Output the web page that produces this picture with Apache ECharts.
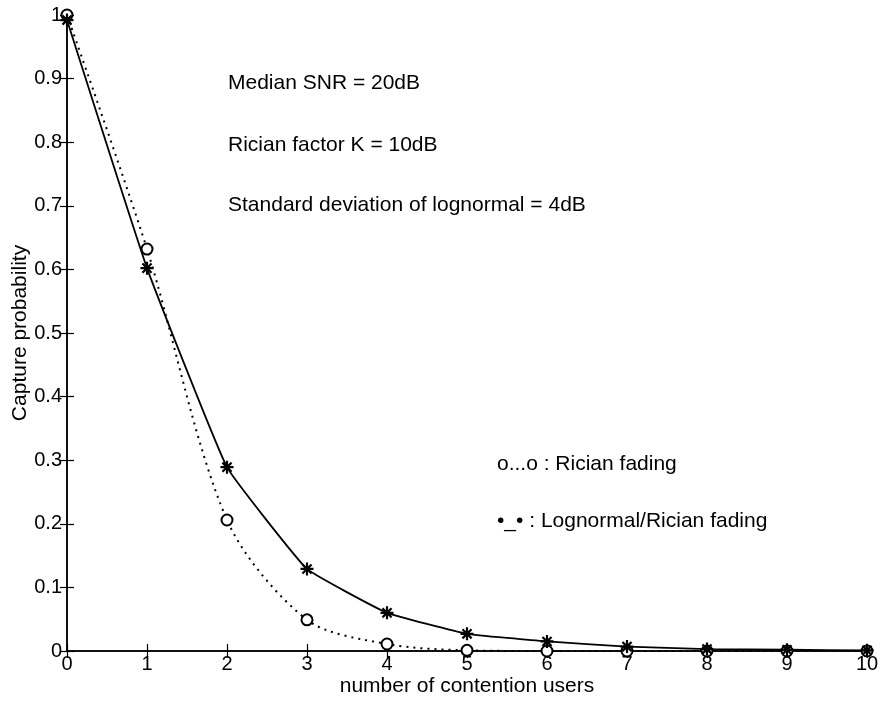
<!DOCTYPE html>
<html>
<head>
<meta charset="utf-8">
<script src="https://cdn.jsdelivr.net/npm/echarts@6/dist/echarts.min.js"></script>
<style>html,body{margin:0;padding:0;background:#fff;}#c{width:878px;height:704px;}</style>
</head>
<body>
<div id="c"></div>
<script>
var users = [0, 1, 2, 3, 4, 5, 6, 7, 8, 9, 10];
var rician = [1.0, 0.632, 0.206, 0.049, 0.011, 0.001, 0.0, 0.0, 0.0, 0.0, 0.0];
var lognormalRician = [0.992, 0.602, 0.289, 0.129, 0.060, 0.027, 0.015, 0.007, 0.003, 0.002, 0.001];
var yTicks = ['0', '0.1', '0.2', '0.3', '0.4', '0.5', '0.6', '0.7', '0.8', '0.9', '1'];
var notes = ['Median SNR = 20dB', 'Rician factor K = 10dB', 'Standard deviation of lognormal = 4dB'];
var legendTexts = ['o...o : Rician fading', '\u2022_\u2022 : Lognormal/Rician fading'];

var FONT = 'Liberation Sans';
var star = 'path://M0,-10L0,10M-10,0L10,0M-7,-7L7,7M7,-7L-7,7';

function pairs(ys) { return users.map(function (x, i) { return [x, ys[i]]; }); }

var chart = echarts.init(document.getElementById('c'), null, { renderer: 'canvas' });
var axisCommon = {
  min: 0,
  axisLine: { show: true, lineStyle: { color: '#000', width: 1.5 } },
  axisTick: { show: true, inside: true, length: 7, lineStyle: { color: '#000', width: 1.2 } },
  splitLine: { show: false }
};
function txt(t, x, y) {
  return { type: 'text', x: x, y: y, style: { text: t, font: '21px "' + FONT + '"', fill: '#000', verticalAlign: 'middle', align: 'left' } };
}
chart.setOption({
  backgroundColor: '#fff',
  animation: false,
  grid: { left: 67, right: 11, top: 15, bottom: 53, containLabel: false, outerBoundsMode: 'none' },
  xAxis: [
    Object.assign({}, axisCommon, {
      type: 'value', max: 10, interval: 1, position: 'bottom',
      name: 'number of contention users', nameLocation: 'middle', nameGap: 25,
      nameMoveOverlap: false,
      nameTextStyle: { fontFamily: FONT, fontSize: 21, color: '#000' },
      axisLabel: { fontFamily: FONT, fontSize: 20, color: '#000', margin: 3 }
    }),
    Object.assign({}, axisCommon, {
      type: 'value', max: 10, interval: 1, position: 'top',
      axisLabel: { show: false }
    })
  ],
  yAxis: [
    Object.assign({}, axisCommon, {
      type: 'value', max: 1, interval: 0.1, position: 'left',
      name: 'Capture probability', nameLocation: 'middle', nameGap: 36,
      nameMoveOverlap: false,
      nameTextStyle: { fontFamily: FONT, fontSize: 21, color: '#000' },
      axisLabel: { fontFamily: FONT, fontSize: 20, color: '#000', margin: 5,
        formatter: function (v) { return yTicks[Math.round(v * 10)]; } }
    }),
    Object.assign({}, axisCommon, {
      type: 'value', max: 1, interval: 0.1, position: 'right',
      axisLabel: { show: false }
    })
  ],
  series: [
    {
      name: 'Rician fading', type: 'line', data: pairs(rician),
      smooth: 0.3,
      lineStyle: { type: [2, 5], color: '#000', width: 2 },
      symbol: 'emptyCircle', symbolSize: 11,
      itemStyle: { color: '#000', borderColor: '#000', borderWidth: 1.8 },
      z: 3
    },
    {
      name: 'Lognormal/Rician fading', type: 'line', data: pairs(lognormalRician),
      smooth: 0.1,
      lineStyle: { type: 'solid', color: '#000', width: 1.8 },
      symbol: star, symbolSize: 13,
      itemStyle: { color: 'transparent', borderColor: '#000', borderWidth: 2.2 },
      z: 4
    }
  ],
  graphic: [
    txt(notes[0], 228, 83),
    txt(notes[1], 228, 145),
    txt(notes[2], 228, 205),
    txt(legendTexts[0], 497, 464),
    txt(legendTexts[1], 497, 521)
  ]
});
</script>
</body>
</html>
